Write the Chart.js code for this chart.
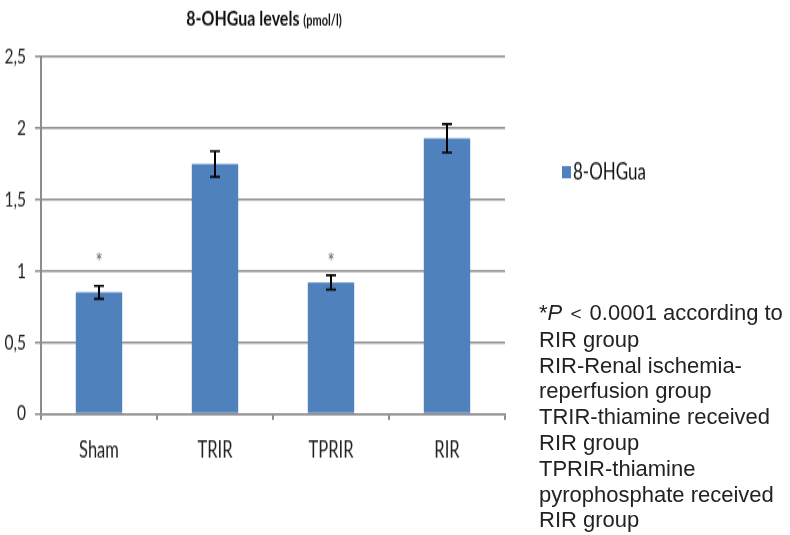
<!DOCTYPE html>
<html>
<head>
<meta charset="utf-8">
<script src="https://cdn.jsdelivr.net/npm/chart.js@4/dist/chart.umd.min.js"></script>
<style>
  body { margin: 0; background: #fff; overflow: hidden; }
  #wrap { position: relative; width: 790px; height: 535px; }
  /* the source chart was stretched vertically, the note beside it was not */
  #stretch { position: absolute; left: 0; top: 0; transform: scaleY(1.35); transform-origin: 0 0; }
  #note {
    position: absolute; left: 539px; top: 300px;
    font-family: "Liberation Sans", Arial, sans-serif;
    font-size: 22px; line-height: 25.8px; color: #222;
    white-space: nowrap;
  }
  #note .lt { font-size: 19px; margin: 0 2px; }
</style>
</head>
<body>
<div id="wrap">
  <div id="stretch"><canvas id="chart" width="790" height="396"></canvas></div>
  <div id="note">
    *<i>P</i> <span class="lt">&lt;</span> 0.0001 according to<br>
    RIR group<br>
    RIR-Renal ischemia-<br>
    reperfusion group<br>
    TRIR-thiamine received<br>
    RIR group<br>
    TPRIR-thiamine<br>
    pyrophosphate received<br>
    RIR group
  </div>
</div>
<script>
const groups = ['Sham', 'TRIR', 'TPRIR', 'RIR'];
const levels = [0.85, 1.75, 0.92, 1.93];
const errors = [0.045, 0.09, 0.05, 0.1];
const starAt = [1.09, null, 1.09, null];   // asterisk level, null = none
const yTicks = [0, 0.5, 1, 1.5, 2, 2.5];

const barBlue = '#4f81bd';
const gridGrey = '#8c8c8c';

// error bars, asterisks, title and legend
const extras = {
    id: 'extras',
    afterDatasetsDraw(chart) {
        const ctx = chart.ctx;
        const y = chart.scales.y;
        const meta = chart.getDatasetMeta(0);
        ctx.save();
        ctx.strokeStyle = '#000';
        meta.data.forEach((bar, i) => {
            const top = y.getPixelForValue(levels[i] + errors[i]);
            const bot = y.getPixelForValue(levels[i] - errors[i]);
            ctx.lineWidth = 2;
            ctx.beginPath();
            ctx.moveTo(bar.x, top); ctx.lineTo(bar.x, bot);
            ctx.stroke();
            ctx.lineWidth = 1.6;
            ctx.beginPath();
            ctx.moveTo(bar.x - 5, top); ctx.lineTo(bar.x + 5, top);
            ctx.moveTo(bar.x - 5, bot); ctx.lineTo(bar.x + 5, bot);
            ctx.stroke();
            if (starAt[i] !== null) {
                ctx.fillStyle = '#666';
                ctx.font = '17px Lato';
                ctx.textAlign = 'center';
                ctx.textBaseline = 'middle';
                ctx.fillText('*', bar.x, y.getPixelForValue(starAt[i]) + 3);
            }
        });

        // title with smaller unit
        ctx.fillStyle = '#111';
        ctx.textBaseline = 'alphabetic';
        ctx.textAlign = 'left';
        const big = 'bold 16px Lato', small = 'bold 11px Lato';
        const t1 = '8-OHGua levels ', t2 = '(pmol/l)';
        ctx.font = big; const w1 = ctx.measureText(t1).width;
        ctx.font = small; const w2 = ctx.measureText(t2).width;
        const x0 = 264 - (w1 + w2) / 2;
        ctx.font = big; ctx.fillText(t1, x0, 19);
        ctx.font = small; ctx.fillText(t2, x0 + w1, 19);

        // legend
        ctx.fillStyle = barBlue;
        ctx.fillRect(562, 123, 9, 9);
        ctx.fillStyle = '#111';
        ctx.font = '17px Lato';
        ctx.fillText(chart.data.datasets[0].label, 573, 132.5);
        ctx.restore();
    }
};

new Chart(document.getElementById('chart'), {
    type: 'bar',
    data: {
        labels: groups,
        datasets: [{
            label: '8-OHGua',
            data: levels,
            backgroundColor: barBlue,
            barPercentage: 0.4,
            categoryPercentage: 1
        }]
    },
    options: {
        responsive: false,
        animation: false,
        layout: { padding: { top: 42.2, right: 285, left: 0, bottom: 0 } },
        plugins: { legend: { display: false }, tooltip: { enabled: false } },
        scales: {
            y: {
                min: 0, max: 2.5,
                afterFit(s) { s.width = 41; },
                afterBuildTicks(s) { s.ticks = yTicks.map(v => ({ value: v })); },
                ticks: {
                    padding: 9,
                    color: '#222',
                    font: { family: 'Lato', size: 15.5 },
                    callback: v => String(v).replace('.', ',')
                },
                grid: { color: gridGrey, lineWidth: 1.5, tickLength: 6 },
                border: { color: gridGrey, width: 2 }
            },
            x: {
                afterFit(s) { s.height = 89.6; },
                ticks: {
                    padding: 13,
                    color: '#222',
                    font: { family: 'Lato', size: 16.5 }
                },
                grid: { drawOnChartArea: false, color: gridGrey, lineWidth: 2, tickLength: 4.5, offset: true },
                border: { color: gridGrey, width: 1.5 }
            }
        }
    },
    plugins: [extras]
});
</script>
</body>
</html>
